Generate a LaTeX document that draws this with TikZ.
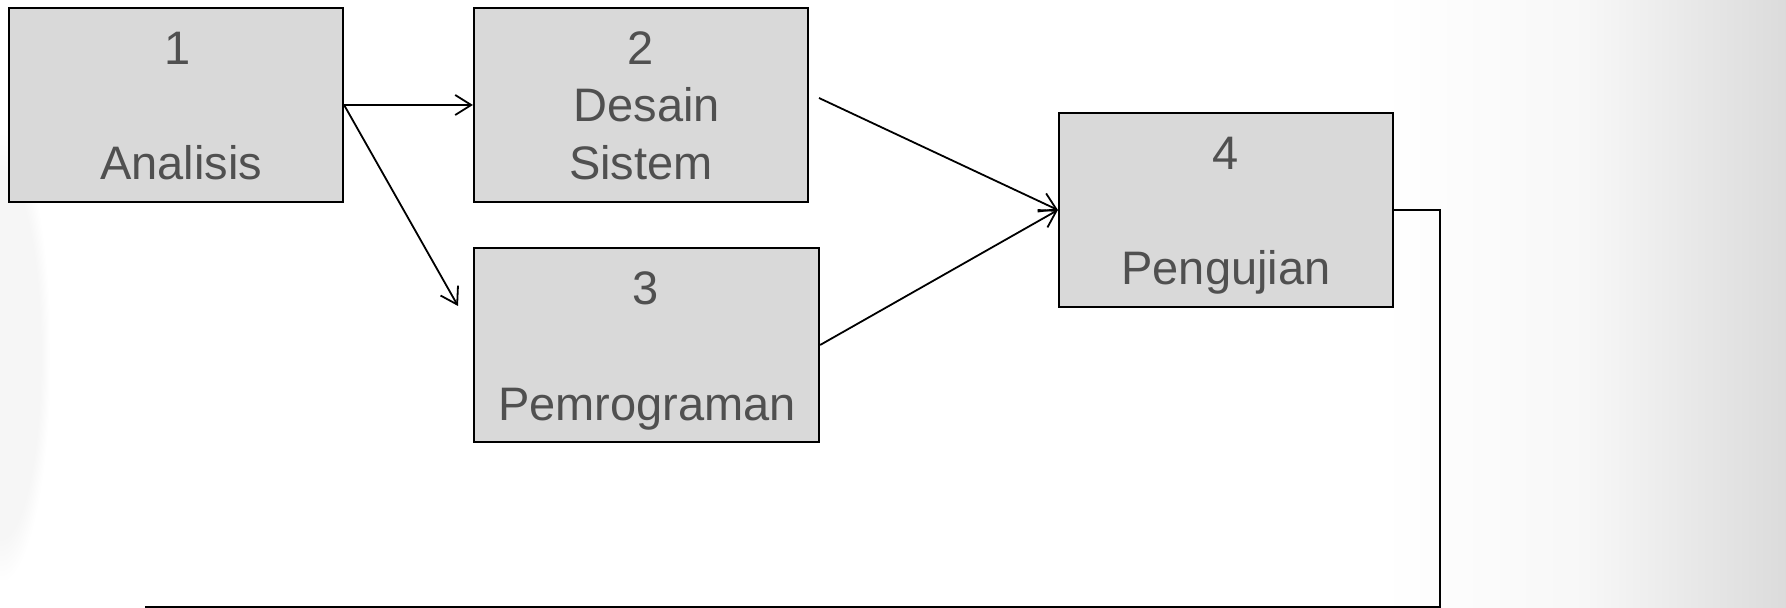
\documentclass[tikz,border=0pt]{standalone}
\usepackage{fontspec}
\setmainfont{Liberation Sans}
\usetikzlibrary{arrows.meta,fadings}
\definecolor{boxfill}{HTML}{D9D9D9}
\definecolor{boxtext}{HTML}{505050}
\tikzset{
  stagebox/.style={draw=black, line width=1.1pt, fill=boxfill, inner sep=0pt},
  stagetext/.style={text=boxtext, font=\fontsize{23.5pt}{28.75pt}\selectfont, anchor=base, inner sep=0pt},
  flow/.style={draw=black, line width=0.9pt},
  flowarrow/.style={flow, -{Straight Barb[length=8pt,width=10pt,line width=0.9pt]}}
}
\begin{document}
\begin{tikzpicture}[x=0.5pt, y=-0.5pt]
  % page and soft slide shading
  \useasboundingbox (0,0) rectangle (1786,608);
  \fill[white] (0,0) rectangle (1786,608);
  \shade[left color=white, right color=gray!28, middle color=gray!6]
    (1380,0) rectangle (1786,608);
  \begin{scope}
    \clip (0,0) rectangle (1786,608);
    \fill[gray!7, path fading=circle with fuzzy edge 20 percent] (-50,130) rectangle (50,580);
  \end{scope}

  % stages
  \node[stagebox, minimum width=334pt*0.5, minimum height=194pt*0.5] (b1) at (176,105) {};
  \node[stagebox, minimum width=334pt*0.5, minimum height=194pt*0.5] (b2) at (641,105) {};
  \node[stagebox, minimum width=345pt*0.5, minimum height=194pt*0.5] (b3) at (646.5,345) {};
  \node[stagebox, minimum width=334pt*0.5, minimum height=194pt*0.5] (b4) at (1226,210) {};

  % stage labels
  \node[stagetext] (t1a) at (178,65) {1};
  \node[stagetext] (t1b) at (181,180) {Analisis};
  \node[stagetext] (t2a) at (641,65) {2};
  \node[stagetext] (t2b) at (647,122) {Desain};
  \node[stagetext] (t2c) at (641,180) {Sistem};
  \node[stagetext] (t3a) at (646,305) {3};
  \node[stagetext] (t3b) at (647,421) {Pemrograman};
  \node[stagetext] (t4a) at (1226,170) {4};
  \node[stagetext] (t4b) at (1226,285) {Pengujian};

  % free ends of connectors
  \coordinate (p3in) at (458,306);
  \coordinate (p2out) at (819,98);
  \coordinate (fbcorner) at (1440,607);
  \coordinate (fbend) at (145,607);

  % connectors
  \draw[flowarrow] (b1.east) -- (b2.west);
  \draw[flowarrow] (b1.east) -- (p3in);
  \draw[flowarrow] (p2out) -- (b4.west);
  \draw[flowarrow] (b3.east) -- (b4.west);
  \draw[flow] (b4.east) -| (fbcorner) -- (fbend);
\end{tikzpicture}
\end{document}
